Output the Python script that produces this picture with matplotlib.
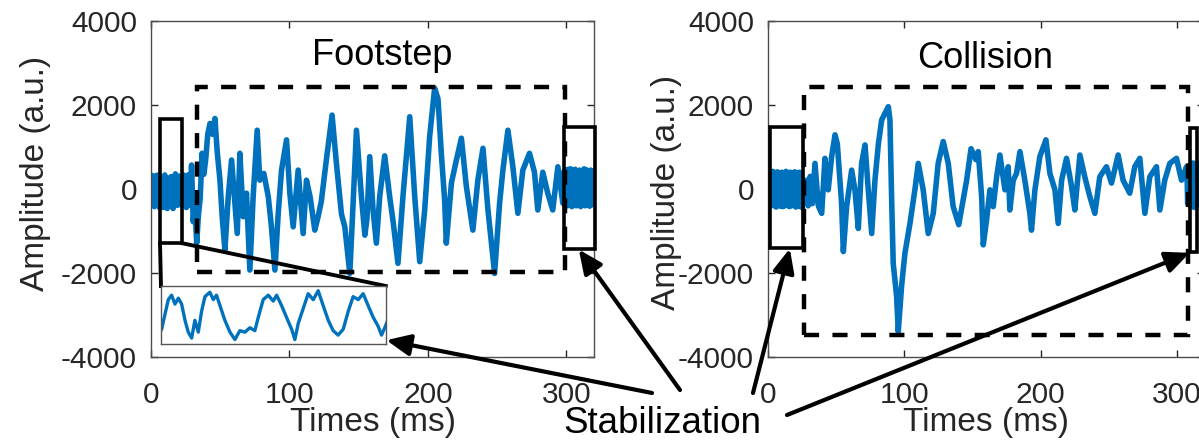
import numpy as np
import matplotlib
matplotlib.use('Agg')
import matplotlib.pyplot as plt
from matplotlib.patches import Rectangle

plt.rcParams['font.family'] = ['Liberation Sans', 'DejaVu Sans']
plt.rcParams['axes.unicode_minus'] = False

BLUE = '#0072BD'
AX_GRAY = '#262626'

# ---- Footstep trace (time in ms, amplitude in a.u.) ----
# quiet lead-in before the impact
foot_head_t = [0.0, 0.3, 0.6, 0.9, 1.2, 1.5, 1.8, 2.1, 2.4, 2.7, 3.0, 3.3, 3.6, 3.9,
               4.2, 4.5, 4.8, 5.1, 5.4, 5.7, 6.0, 6.3, 6.55, 6.78, 7.02, 7.25, 7.49,
               7.73, 7.96, 8.2, 8.43, 8.67, 8.9, 9.14, 9.37, 9.61, 9.96, 10.2, 10.43,
               10.67, 11.02, 11.38, 11.73, 12.08, 12.44, 12.79, 13.14, 13.38, 13.73,
               14.09, 14.44, 14.68, 15.03, 15.38, 15.74, 15.97, 16.21, 16.56, 16.91,
               17.27, 17.62, 17.97, 18.33, 18.68, 19.03, 19.39, 19.74, 20.09, 20.45,
               20.8, 21.15, 21.51, 21.86, 22.1, 22.33, 22.6, 22.9, 23.2, 23.5, 23.8,
               24.1, 24.4, 24.7, 25.0, 25.3, 25.6, 25.9, 26.2, 26.5, 26.8, 27.1, 27.4,
               27.7, 28.0, 28.3]
foot_head_v = [-120, 150, 300, 240, 320, 120, -150, -330, -420, -300, -380, -60, 220, 310,
               230, 330, 90, -180, -300, -400, -440, -380, -290, -40, 210, 285, 135,
               235, 135, -140, -340, -440, -140, -340, 10, 260, 335, 210, 285,
               110, -140, -340, -465, -315, -340, -265, -315, -90, 210,
               285, 185, 285, 110, -90, -290, -465, -190, 60, 310,
               210, 360, 110, -140, -315, -390, -290, 10, 260, 210,
               310, 110, -90, -240, -390, -265, -100, 120, 290, 230, 330,
               200, -50, -300, -420, -330, -440, -150, 150, 300, 240, 340, 150,
               -180, -380, -300]
# impact response
foot_event_t = [29.3, 30.5, 31.6, 33.0, 34.3, 35.5, 36.9, 38.2, 39.5, 41.0, 42.6, 44.5,
                46.2, 47.8, 49.8, 51.5, 53.4, 55.8, 58.2, 60.6, 62.3, 64.2, 66.6, 69.0,
                71.4, 73.8, 76.7, 78.6, 81.5, 84.7, 87.0, 89.5, 91.9, 94.3, 97.9, 100.3,
                102.7, 106.3, 109.9, 112.3, 115.0, 118.3, 120.7, 123.0, 126.7, 130.8,
                133.9, 137.6, 140.0, 143.6, 146.0, 148.4, 152.0, 154.5, 156.0, 158.0,
                160.4, 162.8, 165.2, 168.8, 172.4, 175.0, 178.4, 182.0, 186.9, 190.5,
                194.1, 197.7, 201.3, 204.9, 207.3, 209.7, 212.1, 213.3, 217.0, 220.0,
                224.2, 227.8, 232.5, 236.1, 239.8, 243.4, 248.2, 251.8, 254.2, 257.8,
                261.4, 265.0, 268.6, 273.4, 277.0, 279.4, 283.0, 286.6, 290.2, 293.9,
                297.5]
foot_event_v = [570, -780, -300, -1290, -600, -240, 850, 350, 700, 1300, 1560, 1300,
                1680, 900, 210, -700, -1450, -180, 690, -340, -1060, 850, -660, -100,
                -1930, -180, 1400, 210, 370, -180, -900, -1930, -580, 450, 1170, -100,
                -900, 450, -1060, 210, -200, -980, -660, -300, 700, 1760,
                620, -600, -900, -2010, -340, 1400, -180, -1100, -700, 770,
                -500, -1290, -180, 790, -180, -800, -1770, -180, 1720, -180,
                -1730, -500, 1250, 2400, 2150, 850, -260, -1290, 140, 600,
                1210, 60, -980, 210, 970, -500, -2010, -340, 450, 1400,
                530, -580, 450, 850, 400, -500, 400, -100, -500, 530,
                -340]
# settled tail, sampled every 0.4 ms from 298 ms
foot_tail_v = [-200, 420, 260, -380, -300, 460, 300, -400, -150, 470, 350, -350, -280, 480,
               200, -420, -250, 420, 380, -380, -100, 470, 260, -400, -320, 410, 330,
               -390, -180, 450, 280, -420, -260, 430, 360, -360, -140, 480, 220, -400,
               -300, 460, 300, -380, -200, 420, 350, -410, -240, 450, 240, -380, -300,
               430, 300]

# ---- Collision trace ----
coll_head_v = [-50, 380, 120, -420, -250, 400, 300, -380, -150, 420, 200, -400, -330, 360,
               260, -430, -100, 410, 150, -390, -300, 390, 330, -410, -200, 400, 100,
               -420, -280, 370, 280, -400, -120, 420, 180, -380, -350, 390, 240, -420,
               -60, 400, 120, -400, -300, 380, 310, -390, -180, 410, 200, -430, -260,
               380, 280, -400, -90, 400, 150, -420, -330, 370, 250, -440, -200]
coll_event_t = [26.5, 28.4, 29.5, 31.0, 32.5, 34.5, 36.9, 39.4, 41.8, 44.2, 46.7, 49.2,
                50.9, 54.0, 55.3, 57.7, 61.4, 63.8, 66.3, 68.7, 71.2, 73.6, 76.1, 78.5,
                81.0, 83.4, 85.8, 88.3, 89.5, 90.7, 91.9, 94.4, 95.6, 98.1, 100.5, 104.2,
                107.8, 110.3, 113.9, 117.6, 121.3, 124.9, 128.6, 132.3, 135.9, 140.0,
                145.8, 149.0, 152.5, 154.3, 156.8, 158.0, 160.4, 162.9, 165.3, 167.8,
                170.2, 173.9, 176.3, 177.5, 180.0, 182.4, 184.9, 188.5, 192.2, 193.4,
                195.9, 199.5, 204.0, 206.9, 210.6, 213.0, 215.5, 219.1, 222.8, 225.2,
                228.9, 232.5, 236.2, 239.9, 243.5, 248.4, 252.1, 257.0, 260.6, 265.5,
                269.2, 272.9, 276.6, 280.2, 285.1, 287.6, 291.2, 294.9, 299.8, 303.5,
                307.2]
coll_event_v = [-300, 210, -400, 300, -350, 610, -400, -580, 730, -20, 770, 1290,
                1070, -340, -1490, -420, 450, -20, -940, 610, 1050, -20, -1060, 210,
                1070, 1640, 1800, 1960, 1640, -180, -1770, -2560, -3400, -2290, -1530, -820,
                -20, 610, -20, -1060, -580, 610, 1130, 610, -420, -850,
                210, 960, 700, 890, -180, -1330, -740, -20, -420, 290,
                810, -20, 530, -500, 210, 370, 890, 210, -580, -980,
                -20, 770, 1170, 370, -20, -820, 210, 730, 60, -500,
                810, 290, -180, -580, 290, 530, 140, 810, 210, -100,
                530, 730, -580, 290, 530, -500, 210, 610, 730, 210,
                530]
# settled tail, sampled every 0.4 ms from 307.6 ms
coll_tail_v = [300, -350, -200, 550, 400, -300, -420, 600, 250, -380, -150, 620, 420, -440,
               -300, 580, 350, -400, -220, 560, 480, -360, -280, 600, 300, -420, -100,
               580, 400, -380, -250, 550]

# annotation boxes (x0, y0, x1, y1) in data units
FOOT_QUIET_BOX = (6.5, -1290, 22.4, 1670)
FOOT_EVENT_BOX = (33.2, -1980, 298.7, 2430)
FOOT_END_BOX = (298.0, -1430, 321.0, 1480)
FOOT_INSET = (7.2, -3690, 169.6, -2310)
COLL_QUIET_BOX = (1.5, -1400, 25.7, 1480)
COLL_EVENT_BOX = (26.4, -3480, 308.0, 2430)
COLL_END_BOX = (309.6, -1500, 315.0, 1450)


def build(head_t, head_v, ev_t, ev_v, tail_start, tail_v):
    t = np.concatenate([head_t, ev_t, tail_start + 0.4 * np.arange(len(tail_v))])
    v = np.concatenate([head_v, ev_v, tail_v])
    return t, v


foot_t, foot_v = build(foot_head_t, foot_head_v, foot_event_t, foot_event_v, 298.0, foot_tail_v)
coll_t, coll_v = build(0.4 * np.arange(len(coll_head_v)), coll_head_v,
                       coll_event_t, coll_event_v, 307.6, coll_tail_v)


def style_axes(ax, title, title_xy, ylabel_x, ylabel_y):
    ax.set_xlim(0, 320)
    ax.set_ylim(-4000, 4000)
    ax.set_xticks([0, 100, 200, 300])
    ax.set_yticks([-4000, -2000, 0, 2000, 4000])
    ax.tick_params(direction='in', length=5, width=1, top=True, right=True,
                   labelsize=21.5, colors=AX_GRAY)
    ax.tick_params(axis='x', pad=17)
    ax.tick_params(axis='y', pad=10)
    for s in ax.spines.values():
        s.set_color('#4d4d4d')
        s.set_linewidth(1.0)
    ax.set_xlabel('Times (ms)', fontsize=24, color=AX_GRAY)
    ax.xaxis.set_label_coords(0.5, -0.149)
    ax.set_ylabel('Amplitude (a.u.)', fontsize=24, color=AX_GRAY)
    ax.yaxis.set_label_coords(ylabel_x, ylabel_y)
    ax.text(title_xy[0], title_xy[1], title, ha='center', va='baseline', fontsize=26)


def draw_box(ax, box, dashed=False):
    x0, y0, x1, y1 = box
    if dashed:
        kw = dict(lw=3.2, ls=(0, (3.4, 3.0)))
    else:
        kw = dict(lw=2.6, ls='-')
    ax.add_patch(Rectangle((x0, y0), x1 - x0, y1 - y0, fill=False, ec='black',
                           clip_on=False, zorder=4, joinstyle='miter', **kw))


def stab_arrow(ax, tip, tail_px):
    ax.annotate('', xy=tip, xycoords='data', xytext=tail_px, textcoords='figure pixels',
                annotation_clip=False,
                arrowprops=dict(arrowstyle='-|>,head_length=0.8,head_width=0.36',
                                lw=3, color='black', shrinkA=0, shrinkB=0,
                                mutation_scale=18))


fig = plt.figure(figsize=(11.99, 4.42), dpi=100)
ax1 = fig.add_axes([151 / 1199, 85 / 442, 443 / 1199, 336 / 442])
ax2 = fig.add_axes([768 / 1199, 85 / 442, 436 / 1199, 336 / 442])

ax1.plot(foot_t, foot_v, color=BLUE, lw=4.0, solid_joinstyle='round')
ax2.plot(coll_t, coll_v, color=BLUE, lw=4.0, solid_joinstyle='round')

style_axes(ax1, 'Footstep', (167, 2950), -0.226, 0.545)
style_axes(ax2, 'Collision', (159, 2880), -0.197, 0.491)

draw_box(ax1, FOOT_QUIET_BOX)
draw_box(ax1, FOOT_EVENT_BOX, dashed=True)
draw_box(ax1, FOOT_END_BOX)
draw_box(ax2, COLL_QUIET_BOX)
draw_box(ax2, COLL_EVENT_BOX, dashed=True)
draw_box(ax2, COLL_END_BOX)

# zoomed view of the quiet lead-in
ix0, iy0, ix1, iy1 = FOOT_INSET
axin = ax1.inset_axes([ix0, iy0, ix1 - ix0, iy1 - iy0], transform=ax1.transData)
axin.plot(foot_t, foot_v, color=BLUE, lw=2.4)
axin.set_xlim(FOOT_QUIET_BOX[0], FOOT_QUIET_BOX[2])
axin.set_ylim(-540, 440)
axin.set_xticks([])
axin.set_yticks([])
for s in axin.spines.values():
    s.set_color('#555555')
    s.set_linewidth(1.0)

qx0, qy0, qx1, _ = FOOT_QUIET_BOX
ax1.plot([qx0, ix0], [qy0, iy1], color='black', lw=2.8, clip_on=False, zorder=4)
ax1.plot([qx1, ix1], [qy0, iy1], color='black', lw=2.8, clip_on=False, zorder=4)

fig.text(662 / 1199, 9 / 442, 'Stabilization', ha='center', va='baseline',
         fontsize=26.5, color='black')
stab_arrow(ax1, (170, -3600), (652, 49))
stab_arrow(ax1, (309, -1440), (680, 52))
stab_arrow(ax2, (16, -1420), (753, 49))
stab_arrow(ax2, (309.5, -1520), (787, 27))

fig.savefig('out.png', dpi=100)
